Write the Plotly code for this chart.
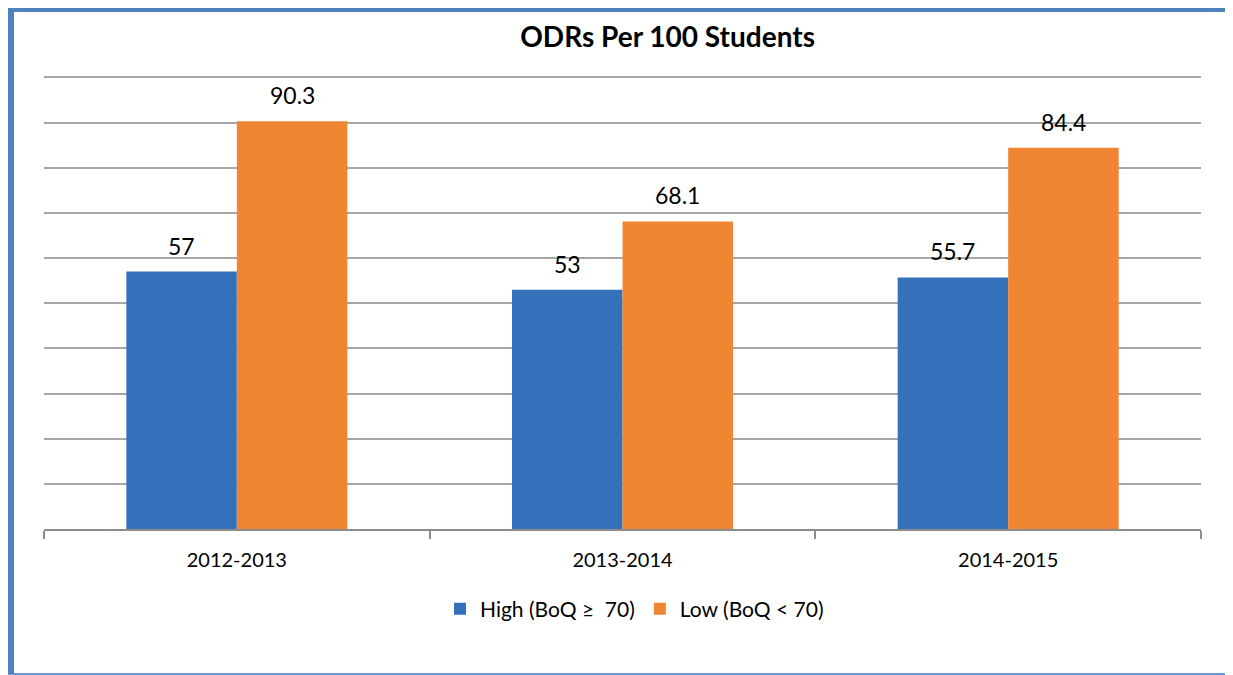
import plotly.graph_objects as go

years = ["2012-2013", "2013-2014", "2014-2015"]
high_vals = [57, 53, 55.7]
low_vals = [90.3, 68.1, 84.4]
high_labels = ["57", "53", "55.7"]
low_labels = ["90.3", "68.1", "84.4"]
series_names = ["High (BoQ \u2265\u00a0 70)", "Low (BoQ < 70)"]
title_text = "<b>ODRs Per 100 Students</b>"

FONT = "Lato, 'Open Sans', sans-serif"
BLUE = "#3571BA"
ORANGE = "#F08634"

fig = go.Figure()
fig.add_trace(go.Bar(
    x=years, y=high_vals, name=series_names[0],
    marker=dict(color=BLUE, line=dict(width=0)),
))
fig.add_trace(go.Bar(
    x=years, y=low_vals, name=series_names[1],
    marker=dict(color=ORANGE, line=dict(width=0)),
))

# data labels above bars
annotations = []
for vals, labels, shift in ((high_vals, high_labels, -55.3), (low_vals, low_labels, 55.3)):
    for cat, v, lab in zip(years, vals, labels):
        annotations.append(dict(
            x=cat, y=v, xref="x", yref="y", text=lab, showarrow=False,
            xshift=shift, yshift=26, yanchor="middle", xanchor="center",
            font=dict(size=23, family=FONT, color="#000000"),
        ))

# frame around the chart (paper coordinates)
shapes = [
    dict(type="line", xref="paper", yref="paper", x0=-0.0285, x1=-0.0285, y0=-0.322, y1=1.15,
         line=dict(color="#4F81BD", width=6)),
    dict(type="line", xref="paper", yref="paper", x0=-0.031, x1=1.026, y0=1.1457, y1=1.1457,
         line=dict(color="#4F81BD", width=4)),
    dict(type="line", xref="paper", yref="paper", x0=1.0268, x1=1.0268, y0=-0.322, y1=1.14,
         line=dict(color="#A9C6EA", width=2)),
    dict(type="line", xref="paper", yref="paper", x0=-0.0259, x1=1.03, y0=-0.320, y1=-0.320,
         line=dict(color="#6A98D3", width=2)),
]

fig.update_layout(
    width=1225, height=667,
    margin=dict(l=36, r=32, t=68, b=146),
    paper_bgcolor="#FFFFFF", plot_bgcolor="#FFFFFF",
    font=dict(family=FONT, color="#000000"),
    title=dict(text=title_text, x=0.539, xref="paper", xanchor="center", y=0.956, yanchor="middle",
               font=dict(size=28, family=FONT, color="#000000")),
    barmode="group", bargap=0.427, bargroupgap=0,
    showlegend=True,
    legend=dict(orientation="h", x=0.5104, xanchor="center", y=-0.177, yanchor="middle",
                font=dict(size=21, family=FONT), traceorder="normal"),
    shapes=shapes,
    annotations=annotations,
)
fig.update_xaxes(
    showline=True, linecolor="#8C8C8C", linewidth=2,
    ticks="outside", tickson="boundaries", ticklen=8, tickcolor="#8C8C8C", tickwidth=2,
    tickfont=dict(size=20, family=FONT, color="#000000"),
    ticklabelstandoff=12,
    showgrid=False,
)
fig.update_yaxes(
    range=[0, 100.3], dtick=10, showticklabels=False,
    showgrid=True, gridcolor="#A6A6A6", gridwidth=2,
    zeroline=False, showline=False, ticks="",
)

fig.write_html("out.html")
